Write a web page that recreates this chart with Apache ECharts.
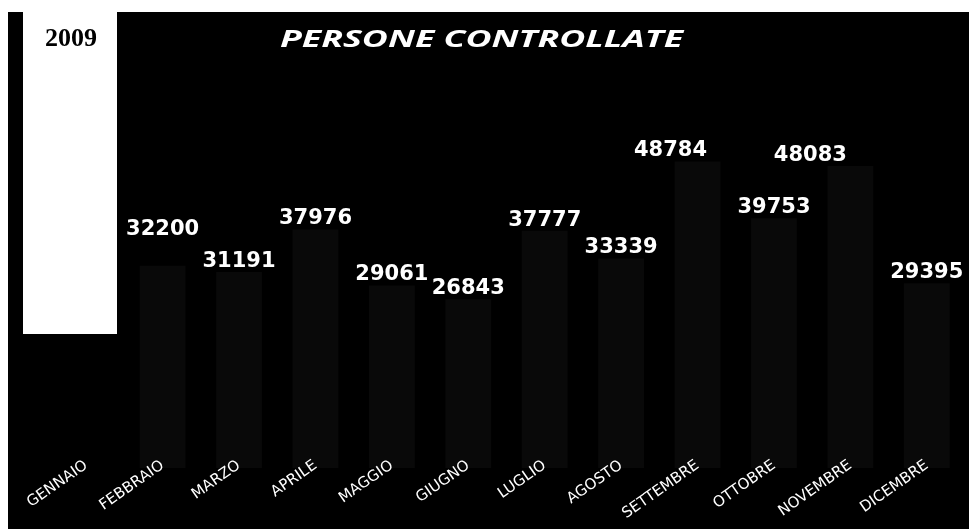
<!DOCTYPE html>
<html>
<head>
<meta charset="utf-8">
<title>Persone controllate 2009</title>
<script src="https://cdn.jsdelivr.net/npm/echarts@6/dist/echarts.min.js"></script>
<style>
  html, body { margin: 0; padding: 0; background: #fff; }
  #chart { position: absolute; left: 8px; top: 12px; width: 961px; height: 517px; }
</style>
</head>
<body>
<div id="chart"></div>
<script>
// mesi e persone controllate (il valore di gennaio e' coperto dal riquadro bianco)
var mesi = ['GENNAIO', 'FEBBRAIO', 'MARZO', 'APRILE', 'MAGGIO', 'GIUGNO',
  'LUGLIO', 'AGOSTO', 'SETTEMBRE', 'OTTOBRE', 'NOVEMBRE', 'DICEMBRE'];
var persone = [null, 32200, 31191, 37976, 29061, 26843, 37777, 33339, 48784, 39753, 48083, 29395];
var anno = '2009';
var titolo = 'PERSONE CONTROLLATE';

// etichette spostate a mano nel grafico originale
var spostaEtichette = { FEBBRAIO: [0, -26], SETTEMBRE: [-27, 0], NOVEMBRE: [-40, 0] };

var chart = echarts.init(document.getElementById('chart'));

// il titolo originale e' spaziato: lo allargo fino a ~403px
var fontTitolo = 'italic bold 23px "Open Sans"';
var ctx = document.createElement('canvas').getContext('2d');
ctx.font = fontTitolo;
var scalaTitolo = 403 / ctx.measureText(titolo).width;

var dati = persone.map(function (v, i) {
  var item = { value: v };
  if (spostaEtichette[mesi[i]]) {
    item.label = { offset: spostaEtichette[mesi[i]] };
  }
  return item;
});

chart.setOption({
  animation: false,
  backgroundColor: '#000',
  grid: { left: 40, right: 4, top: 79, bottom: 61 },
  xAxis: {
    type: 'category',
    data: mesi,
    z: 5,
    axisLine: { show: false },
    axisTick: { show: false },
    axisLabel: {
      interval: 0,
      rotate: 35,
      margin: -4,
      color: '#fff',
      fontFamily: 'DejaVu Sans',
      fontSize: 15
    }
  },
  yAxis: {
    type: 'value',
    min: 0,
    max: 60000,
    show: false
  },
  series: [{
    type: 'bar',
    data: dati,
    barCategoryGap: '40%',
    itemStyle: { color: '#090909' },
    label: {
      show: true,
      position: 'top',
      distance: 0,
      color: '#fff',
      fontFamily: 'DejaVu Sans',
      fontWeight: 'bold',
      fontSize: 21
    }
  }],
  graphic: [
    {
      type: 'rect',
      z: 100,
      shape: { x: 15, y: 0, width: 94, height: 322 },
      style: { fill: '#fff' }
    },
    {
      type: 'text',
      z: 101,
      x: 63,
      y: 27,
      style: {
        text: anno,
        fill: '#000',
        font: 'bold 26px "Liberation Serif"',
        align: 'center',
        verticalAlign: 'middle'
      }
    },
    {
      type: 'text',
      z: 101,
      x: 272,
      y: 28,
      scaleX: scalaTitolo,
      style: {
        text: titolo,
        fill: '#fff',
        font: fontTitolo,
        align: 'left',
        verticalAlign: 'middle'
      }
    }
  ]
});
</script>
</body>
</html>
